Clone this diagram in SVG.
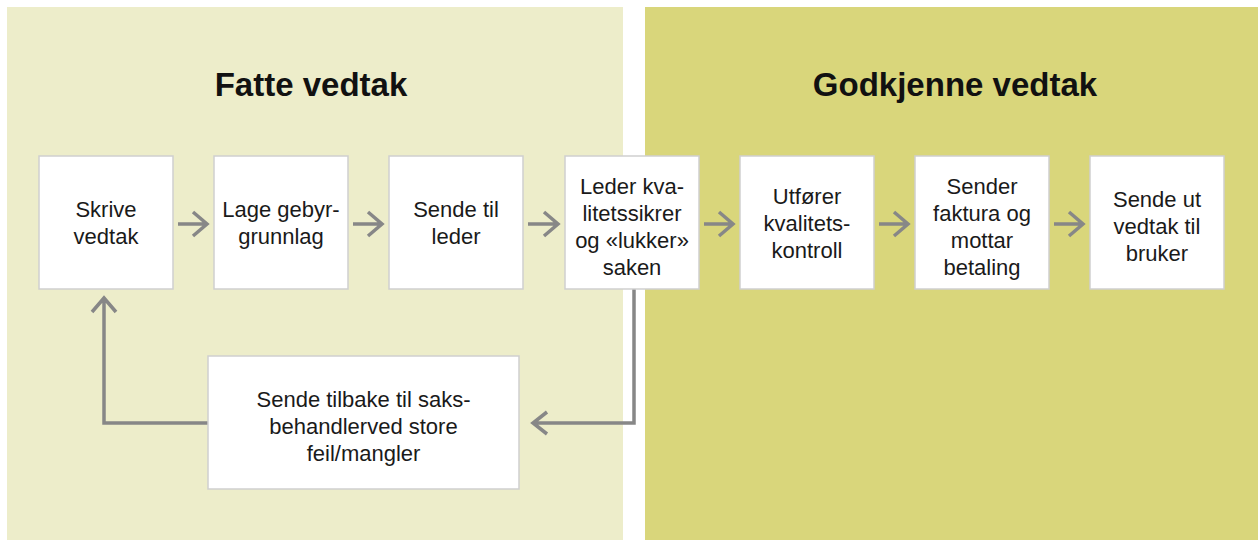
<svg xmlns="http://www.w3.org/2000/svg" width="1258" height="540" viewBox="0 0 1258 540">
<style>
.title{font-family:"Liberation Sans",Arial,sans-serif;font-size:33px;font-weight:bold;fill:#111;text-anchor:middle}
.lbl{font-family:"Liberation Sans",Arial,sans-serif;font-size:22px;fill:#1a1a1a;text-anchor:middle}
.box{fill:#fff;stroke:#cfcfcf;stroke-width:1.5}
.con{fill:none;stroke:#878787;stroke-width:3.5;stroke-linejoin:miter;stroke-linecap:butt}
</style>
<rect x="0" y="0" width="1258" height="540" fill="#fff"/>
<g id="panel-left">
<rect x="7" y="7" width="616" height="533" fill="#EDEDCA"/>
<text class="title" x="311" y="96">Fatte vedtak</text>
</g>
<g id="panel-right">
<rect x="645" y="7" width="613" height="533" fill="#D9D67B"/>
<text class="title" x="955" y="96">Godkjenne vedtak</text>
</g>
<g id="connectors">
<path class="con" d="M178,224 H207 M193,212 L207,224 L193,236"/>
<path class="con" d="M353,224 H382 M368,212 L382,224 L368,236"/>
<path class="con" d="M528,224 H558 M544,212 L558,224 L544,236"/>
<path class="con" d="M704,224 H733 M719,212 L733,224 L719,236"/>
<path class="con" d="M879,224 H908 M894,212 L908,224 L894,236"/>
<path class="con" d="M1054,224 H1083 M1069,212 L1083,224 L1069,236"/>
<path class="con" d="M634,289 V423 H533 M547,412 L533,423 L547,434"/>
<path class="con" d="M208,423 H104 V298 M92,312 L104,298 L116,312"/>
</g>
<g id="n1">
<rect class="box" x="39" y="156" width="134" height="133"/>
<text class="lbl" x="106" y="217">Skrive</text>
<text class="lbl" x="106" y="244">vedtak</text>
</g>
<g id="n2">
<rect class="box" x="214" y="156" width="134" height="133"/>
<text class="lbl" x="281" y="217">Lage gebyr-</text>
<text class="lbl" x="281" y="244">grunnlag</text>
</g>
<g id="n3">
<rect class="box" x="389" y="156" width="134" height="133"/>
<text class="lbl" x="456" y="217">Sende til</text>
<text class="lbl" x="456" y="244">leder</text>
</g>
<g id="n4">
<rect class="box" x="565" y="156" width="134" height="133"/>
<text class="lbl" x="632" y="194">Leder kva-</text>
<text class="lbl" x="632" y="221">litetssikrer</text>
<text class="lbl" x="632" y="248">og «lukker»</text>
<text class="lbl" x="632" y="275">saken</text>
</g>
<g id="n5">
<rect class="box" x="740" y="156" width="134" height="133"/>
<text class="lbl" x="807" y="204">Utfører</text>
<text class="lbl" x="807" y="231">kvalitets-</text>
<text class="lbl" x="807" y="258">kontroll</text>
</g>
<g id="n6">
<rect class="box" x="915" y="156" width="134" height="133"/>
<text class="lbl" x="982" y="194">Sender</text>
<text class="lbl" x="982" y="221">faktura og</text>
<text class="lbl" x="982" y="248">mottar</text>
<text class="lbl" x="982" y="275">betaling</text>
</g>
<g id="n7">
<rect class="box" x="1090" y="156" width="134" height="133"/>
<text class="lbl" x="1157" y="207">Sende ut</text>
<text class="lbl" x="1157" y="234">vedtak til</text>
<text class="lbl" x="1157" y="261">bruker</text>
</g>
<g id="n8">
<rect class="box" x="208" y="356" width="311" height="133"/>
<text class="lbl" x="363.5" y="407">Sende tilbake til saks-</text>
<text class="lbl" x="363.5" y="434">behandlerved store</text>
<text class="lbl" x="363.5" y="461">feil/mangler</text>
</g>
</svg>
